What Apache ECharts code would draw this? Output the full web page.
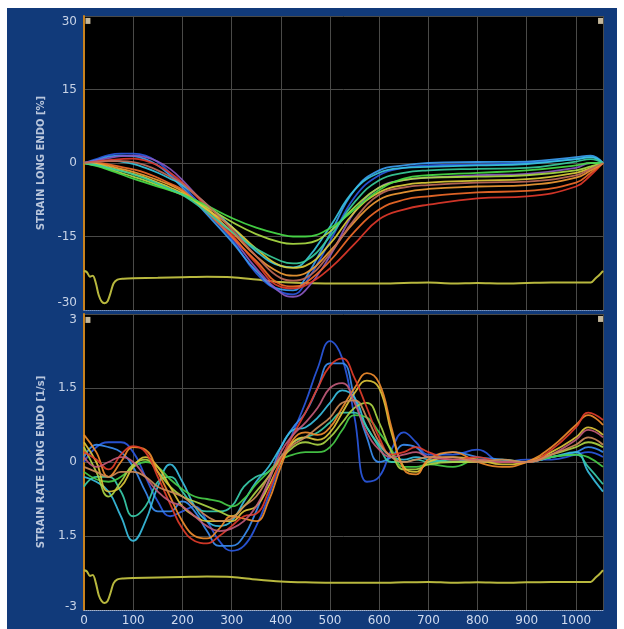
<!DOCTYPE html>
<html><head><meta charset="utf-8">
<script src="https://cdn.jsdelivr.net/npm/echarts@6/dist/echarts.min.js"></script>
<style>
html,body{margin:0;padding:0;background:#fff;}
#frame{position:absolute;left:7px;top:8px;width:610px;height:621px;background:#113a7a;}
#c{position:absolute;left:0;top:0;width:624px;height:629px;}
</style>
</head><body><div id="frame"></div><div id="c"></div>
<script>
// ---------- x positions ----------
var xsTop = [0,25,50,75,100,125,150,175,200,250,300,350,400,425,450,500,550,600,650,700,800,900,1000,1030,1055];
var xsBot = [0,25,50,75,100,125,150,175,200,225,250,275,300,325,350,375,400,425,450,475,500,525,550,575,600,625,650,675,700,750,800,850,900,950,1000,1025,1055];

// ---------- tick labels ----------
var xTicks = ['0','100','200','300','400','500','600','700','800','900','1000'];
var topTickLabels = ['-30','-15','0','15','30'];
var botTickLabels = ['-3','1.5','0','1.5','3'];
var topName = 'STRAIN LONG ENDO [%]';
var botName = 'STRAIN RATE LONG ENDO [1/s]';

// ---------- colours ----------
var topColors = ['#2a58e0','#3a9cf0','#38c6e0','#8a58c0','#e0382a','#f06a28','#f09a34','#dccc38','#aadc44','#48dc48','#38cc9a','#c06a58'];
var botColors = ['#2a58e0','#3a8cf0','#38bee0','#38ccaa','#48cc48','#aad444','#dcc438','#f08c2c','#e03c2a','#c05a7a','#cc8a58'];

// ---------- strain curves (%) ----------
var strain1  = [0,0.8,1.6,1.9,1.9,1.5,0.2,-2,-4.5,-10,-15.5,-22.5,-26.3,-26.8,-24.5,-16,-7,-2.5,-1,-0.5,-0.3,0,0.8,1.2,0];
var strain2  = [0,0.6,1.3,1.5,1.4,0.8,-0.5,-2.5,-5,-10.5,-16,-22,-25.8,-26,-23.5,-14.5,-5.5,-1.5,-0.5,0,0.2,0.3,1.2,1.5,0];
var strain3  = [0,0.3,0.5,0.3,-0.2,-1,-2,-3.2,-4.5,-8.5,-13,-18,-21,-21.3,-20,-13,-5.5,-2,-1,-0.8,-0.5,-0.2,0.8,1.2,0];
var strain4  = [0,0.5,1,1.4,1.5,1.2,0.3,-1.2,-3.5,-9,-15,-21.5,-26.5,-27.3,-26,-19,-10,-5,-3.5,-3,-2.5,-2.2,-1,0,0];
var strain5  = [0,0.3,0.6,0.8,0.9,0.5,-0.5,-2,-4,-9,-14.5,-20.5,-25.3,-25.6,-25,-21.5,-16.5,-11.5,-9.5,-8.5,-7.2,-6.8,-4.8,-2.5,0];
var strain6  = [0,0,-0.3,-0.8,-1.3,-2,-3,-4.2,-5.5,-10,-15,-20,-24.8,-25.2,-24.5,-20,-14,-9.5,-7.5,-6.8,-6,-5.7,-4,-2,0];
var strain7  = [0,-0.2,-0.6,-1.2,-1.8,-2.6,-3.5,-4.5,-5.8,-9.5,-14,-19,-22.5,-23,-22.5,-18,-12,-7.5,-6,-5.3,-4.8,-4.5,-3,-1.5,0];
var strain8  = [0,-0.3,-0.9,-1.5,-2.2,-3,-4,-5,-6.2,-9.5,-13,-17.5,-21,-21.4,-21,-16.5,-10,-6,-4.5,-4,-3.6,-3.3,-2,-1,0];
var strain9  = [0,-0.5,-1.2,-2,-2.8,-3.6,-4.5,-5.5,-6.5,-9,-12,-14.5,-16.2,-16.5,-16.4,-14,-9,-5,-3.5,-3,-2.8,-2.5,-1.5,-0.7,0];
var strain10 = [0,-0.6,-1.4,-2.3,-3.2,-4,-4.8,-5.6,-6.4,-8.7,-11.2,-13.2,-14.6,-15,-15,-13.3,-9.5,-5.5,-3.2,-2.5,-2,-1.5,-0.5,0,0];
var strain11 = [0,-0.4,-1,-1.6,-2.3,-3.2,-4.2,-5.3,-6.5,-10,-14,-17.5,-20,-20.5,-20,-15,-8,-3.5,-2,-1.5,-1.2,-1,0.3,0.8,0];
var strain12 = [0,0.2,0.4,0.4,0.2,-0.5,-1.5,-2.8,-4.2,-8.5,-13.5,-19,-23.5,-24,-23.5,-18.5,-11.5,-6.5,-5,-4.5,-4,-3.8,-2.5,-1.2,0];

// ---------- strain rate curves (1/s) ----------
var rate1  = [0.0,0.3,0.4,0.4,0.2,-0.3,-0.8,-1.1,-1.0,-0.9,-1.2,-1.6,-1.8,-1.7,-1.3,-0.7,0.0,0.6,1.2,1.9,2.45,2.1,0.9,-0.4,-0.3,0.25,0.6,0.4,0.15,0.15,0.25,0.0,0.05,0.05,0.15,0.2,0.1];
var rate2  = [0.1,0.35,0.3,0.2,-0.1,-0.6,-1.0,-1.0,-0.8,-1.0,-1.4,-1.7,-1.7,-1.5,-1.0,-0.4,0.3,0.7,1.0,1.5,2.0,2.0,1.3,0.5,0.0,0.1,0.35,0.3,0.1,0.2,0.1,0.05,0.0,0.1,0.2,0.3,0.2];
var rate3  = [-0.3,-0.4,-0.6,-1.1,-1.6,-1.2,-0.5,-0.05,-0.4,-0.9,-1.2,-1.3,-1.2,-0.8,-0.4,-0.1,0.3,0.65,0.7,0.9,1.2,1.45,1.3,0.7,0.35,0.1,0.05,0.1,0.05,0.0,0.05,0.0,0.0,0.1,0.2,-0.2,-0.6];
var rate4  = [-0.5,-0.3,-0.3,-0.6,-1.1,-0.9,-0.4,-0.3,-0.6,-0.9,-1.0,-1.0,-0.9,-0.5,-0.3,-0.2,0.1,0.4,0.5,0.6,0.8,1.0,1.0,0.7,0.3,0.0,0.0,0.05,0.0,0.05,0.0,0.05,0.0,0.1,0.15,-0.1,-0.45];
var rate5  = [-0.2,-0.35,-0.4,-0.3,-0.1,0.0,-0.1,-0.35,-0.55,-0.7,-0.75,-0.8,-0.9,-0.75,-0.45,-0.2,0.05,0.15,0.2,0.2,0.3,0.65,0.95,0.9,0.6,0.25,-0.1,-0.1,-0.05,-0.1,0.05,0.0,0.0,0.1,0.15,0.1,-0.1];
var rate6  = [0.3,-0.2,-0.7,-0.4,-0.05,0.05,-0.2,-0.5,-0.7,-0.8,-0.9,-1.0,-1.1,-0.9,-0.6,-0.3,0.05,0.3,0.4,0.35,0.5,0.8,1.1,1.2,0.8,0.2,-0.15,-0.15,-0.05,0.0,0.0,0.0,0.0,0.15,0.3,0.4,0.3];
var rate7  = [0.4,0.0,-0.6,-0.5,-0.1,0.1,-0.1,-0.5,-0.9,-1.1,-1.2,-1.2,-1.2,-1.0,-0.9,-0.5,0.0,0.4,0.5,0.45,0.6,1.0,1.4,1.65,1.5,0.6,-0.1,-0.2,0.0,0.1,0.05,-0.05,0.0,0.2,0.5,0.7,0.55];
var rate8  = [0.55,0.2,-0.3,0.0,0.3,0.25,-0.2,-0.7,-1.2,-1.5,-1.55,-1.35,-1.1,-1.15,-1.2,-0.8,-0.1,0.45,0.6,0.55,0.7,1.1,1.5,1.8,1.6,0.7,-0.15,-0.25,0.05,0.2,0.0,-0.1,0.0,0.3,0.75,0.95,0.75];
var rate9  = [0.2,0.05,-0.15,0.15,0.32,0.2,-0.3,-0.85,-1.35,-1.6,-1.65,-1.5,-1.3,-1.1,-1.05,-0.6,0.05,0.55,1.0,1.5,1.95,2.1,1.7,1.1,0.5,0.15,0.2,0.3,0.2,0.05,0.1,0.0,0.0,0.25,0.7,1.0,0.85];
var rate10 = [0.1,-0.1,0.0,0.1,0.0,-0.3,-0.6,-0.8,-0.9,-1.1,-1.3,-1.4,-1.35,-1.2,-0.9,-0.4,0.2,0.55,0.8,1.1,1.5,1.6,1.2,0.6,0.25,0.1,0.15,0.2,0.1,0.05,0.05,0.0,0.0,0.15,0.45,0.65,0.5];
var rate11 = [-0.1,-0.2,-0.3,-0.2,-0.2,-0.3,-0.5,-0.6,-0.7,-0.9,-1.1,-1.2,-1.15,-0.9,-0.7,-0.3,0.1,0.35,0.5,0.7,0.9,1.2,1.25,0.9,0.4,0.1,0.0,0.05,0.1,0.1,0.0,0.05,0.0,0.15,0.35,0.5,0.35];

// ---------- ECG trace (drawn in both panels) ----------
var ecgX    = [0,6,12,18,24,30,36,42,48,54,60,68,80,100,150,200,250,300,350,400,450,500,550,600,650,700,750,800,850,900,950,1000,1030,1040,1048,1055];
var ecgTopY = [-22.0,-22.3,-23.2,-23.0,-24.5,-27.0,-28.3,-28.6,-28.2,-26.5,-24.6,-23.8,-23.6,-23.5,-23.4,-23.3,-23.2,-23.3,-23.8,-24.3,-24.5,-24.6,-24.6,-24.6,-24.5,-24.4,-24.6,-24.5,-24.6,-24.5,-24.4,-24.4,-24.4,-23.5,-22.8,-22.0];
var ecgBotY = [-2.19,-2.22,-2.31,-2.29,-2.45,-2.7,-2.82,-2.86,-2.82,-2.65,-2.46,-2.38,-2.36,-2.35,-2.34,-2.33,-2.32,-2.33,-2.38,-2.42,-2.44,-2.45,-2.45,-2.45,-2.44,-2.43,-2.45,-2.44,-2.45,-2.44,-2.43,-2.43,-2.43,-2.34,-2.27,-2.19];

// ---------- cursor markers ----------
var topMarkers = [[8,29.0],[1050,29.0]];
var botMarkers = [[8,2.88],[1050,2.9]];

var strainSet = [strain1,strain2,strain3,strain4,strain5,strain6,strain7,strain8,strain9,strain10,strain11,strain12];
var rateSet = [rate1,rate2,rate3,rate4,rate5,rate6,rate7,rate8,rate9,rate10,rate11];

function zip(xs, ys){ return xs.map(function(x,i){ return [x, ys[i]]; }); }

var gridLine = {show:true, lineStyle:{color:'#4a4a48', width:1}};
var lblFont = {color:'#c8d3e6', fontSize:12, fontFamily:'DejaVu Sans'};
var nameStyle = {color:'#b9c6dc', fontSize:10, fontWeight:'bold', fontFamily:'DejaVu Sans'};

function xAxisCfg(idx, showLabels, lineColor){
  return {
    type:'value', gridIndex:idx, min:0, max:1055, interval:100,
    axisLine:{show:true, onZero:false, lineStyle:{color:lineColor, width:1, type:'dotted'}},
    axisTick:{show:false},
    axisLabel:{show:showLabels, showMaxLabel:false, margin:5, color:'#d0dbef', fontSize:12, fontFamily:'DejaVu Sans',
      formatter:function(v){ var k = Math.round(v/100); return (k*100===v && xTicks[k]) ? xTicks[k] : ''; }},
    splitLine:gridLine
  };
}
function yAxisCfg(idx, min, max, step, labels, name, padHi, padLo){
  return {
    type:'value', gridIndex:idx, min:min, max:max, interval:step,
    name:name, nameLocation:'middle', nameGap:38, nameRotate:90, nameTextStyle:nameStyle,
    axisLine:{show:true, onZero:false, lineStyle:{color:'#c8821e', width:2}},
    axisTick:{show:false},
    axisLabel:{margin:7, color:lblFont.color, fontSize:lblFont.fontSize, fontFamily:lblFont.fontFamily,
      formatter:function(v){
        var k=Math.round((v-min)/step);
        var t = labels[k];
        if (t===undefined) return '';
        if (k===labels.length-1) return '{hi|'+t+'}';
        if (k===0) return '{lo|'+t+'}';
        return t;
      },
      rich:{
        hi:{padding:[padHi,0,0,0], color:lblFont.color, fontSize:lblFont.fontSize, fontFamily:lblFont.fontFamily},
        lo:{padding:[0,0,padLo,0], color:lblFont.color, fontSize:lblFont.fontSize, fontFamily:lblFont.fontFamily}
      }},
    splitLine:gridLine
  };
}

var series = [];
series.push({type:'line', xAxisIndex:0, yAxisIndex:0, data:zip(ecgX, ecgTopY), showSymbol:false, smooth:0.3,
  lineStyle:{color:'#b8b83e', width:2}, z:3});
series.push({type:'line', xAxisIndex:1, yAxisIndex:1, data:zip(ecgX, ecgBotY), showSymbol:false, smooth:0.3,
  lineStyle:{color:'#b8b83e', width:2}, z:3});
strainSet.forEach(function(s,i){
  series.push({type:'line', xAxisIndex:0, yAxisIndex:0, data:zip(xsTop, s), showSymbol:false, smooth:0.45,
    lineStyle:{color:topColors[i], width:1.8, opacity:0.92}, z:4});
});
rateSet.forEach(function(s,i){
  series.push({type:'line', xAxisIndex:1, yAxisIndex:1, data:zip(xsBot, s), showSymbol:false, smooth:0.45,
    lineStyle:{color:botColors[i], width:1.8, opacity:0.92}, z:4});
});
series.push({type:'scatter', xAxisIndex:0, yAxisIndex:0, data:topMarkers, symbol:'rect', symbolSize:[5,6],
  itemStyle:{color:'#f4e4c0'}, z:6});
series.push({type:'scatter', xAxisIndex:1, yAxisIndex:1, data:botMarkers, symbol:'rect', symbolSize:[5,6],
  itemStyle:{color:'#f4e4c0'}, z:6});

var chart = echarts.init(document.getElementById('c'), null, {renderer:'canvas'});
chart.setOption({
  animation:false,
  backgroundColor:'transparent',
  grid:[
    {left:84, right:21, top:16, height:294, show:true, backgroundColor:'#000', borderWidth:0},
    {left:84, right:21, top:314, height:296, show:true, backgroundColor:'#000', borderWidth:0}
  ],
  xAxis:[ xAxisCfg(0, false, '#6f8fc4'), xAxisCfg(1, true, '#9fb2d4') ],
  yAxis:[ yAxisCfg(0, -30, 30, 15, topTickLabels, topName, 12, 14), yAxisCfg(1, -3, 3, 1.5, botTickLabels, botName, 12, 6) ],
  series:series
});
</script></body></html>
